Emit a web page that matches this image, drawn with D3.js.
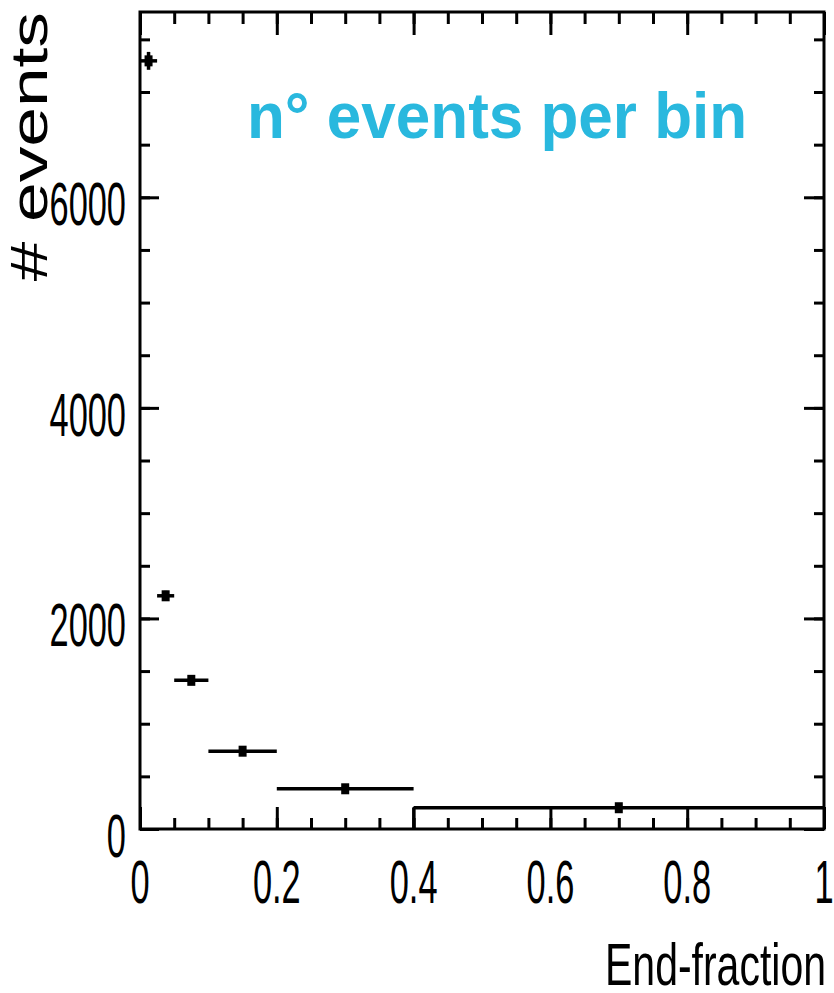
<!DOCTYPE html>
<html>
<head>
<meta charset="utf-8">
<script src="https://cdn.jsdelivr.net/npm/d3@7/dist/d3.min.js"></script>
<style>
  html, body { margin: 0; padding: 0; background: #ffffff; }
  svg { display: block; }
</style>
</head>
<body>
<svg id="chart" width="834" height="993"></svg>
<script>
// Variable-width bins of the end-fraction histogram
const binLow  = [0, 0.025, 0.05, 0.1, 0.2, 0.4];
const binHigh = [0.025, 0.05, 0.1, 0.2, 0.4, 1.0];
const binCenter = [0.0125, 0.0375, 0.075, 0.15, 0.3, 0.7];
// Events per bin and their statistical errors
const counts = [7296, 2215, 1412, 739, 382, 202];
const errors = [85, 47, 38, 27, 20, 14];
// Axis ticks
const xMajorTicks = [0, 0.2, 0.4, 0.6, 0.8, 1];
const xTickLabels = ["0", "0.2", "0.4", "0.6", "0.8", "1"];
const yMajorTicks = [0, 2000, 4000, 6000];
const yTickLabels = ["0", "2000", "4000", "6000"];
const xMinorStep = 0.05;
const yMinorStep = 500;
const yMax = 7760;

const svg = d3.select("#chart");
const frame = { left: 140, right: 824, top: 12, bottom: 829 };

const x = d3.scaleLinear().domain([0, 1]).range([frame.left, frame.right]);
const y = d3.scaleLinear().domain([0, yMax]).range([frame.bottom, frame.top]);

const xMinor = d3.range(0, 1 + 1e-9, xMinorStep).map(v => +v.toFixed(3));
const yMinor = d3.range(0, yMax, yMinorStep);

const FONT = "'Liberation Sans', Arial, Helvetica, sans-serif";
const SX = 0.86, SY = 1.52;   // condensed, tall lettering of the axis text

function styleAxis(g) {
  g.select(".domain").remove();
  g.selectAll(".tick line").attr("stroke", "#000").attr("stroke-width", 3);
  g.selectAll(".tick text").remove();
}

// Ticks on all four sides, pointing inwards
svg.append("g").attr("transform", `translate(0,${frame.bottom})`)
  .call(d3.axisBottom(x).tickValues(xMinor).tickSize(-11)).call(styleAxis);
svg.append("g").attr("transform", `translate(0,${frame.bottom})`)
  .call(d3.axisBottom(x).tickValues(xMajorTicks).tickSize(-22)).call(styleAxis);
svg.append("g").attr("transform", `translate(0,${frame.top})`)
  .call(d3.axisTop(x).tickValues(xMinor).tickSize(-12)).call(styleAxis);
svg.append("g").attr("transform", `translate(0,${frame.top})`)
  .call(d3.axisTop(x).tickValues(xMajorTicks).tickSize(-23)).call(styleAxis);
svg.append("g").attr("transform", `translate(${frame.left},0)`)
  .call(d3.axisLeft(y).tickValues(yMinor).tickSize(-10)).call(styleAxis);
svg.append("g").attr("transform", `translate(${frame.left},0)`)
  .call(d3.axisLeft(y).tickValues(yMajorTicks).tickSize(-19)).call(styleAxis);
svg.append("g").attr("transform", `translate(${frame.right},0)`)
  .call(d3.axisRight(y).tickValues(yMinor).tickSize(-10)).call(styleAxis);
svg.append("g").attr("transform", `translate(${frame.right},0)`)
  .call(d3.axisRight(y).tickValues(yMajorTicks).tickSize(-20)).call(styleAxis);

// Frame
svg.append("rect")
  .attr("x", frame.left).attr("y", frame.top)
  .attr("width", frame.right - frame.left).attr("height", frame.bottom - frame.top)
  .attr("fill", "none").attr("stroke", "#000").attr("stroke-width", 3);

// Stretched text helper
function label(str, px, py, size, anchor, sx, sy, rot, weight, fill) {
  svg.append("text")
    .attr("transform", `translate(${px},${py}) scale(${sx},${sy})` + (rot ? ` rotate(${rot})` : ""))
    .attr("text-anchor", anchor)
    .attr("font-family", FONT)
    .attr("font-size", size)
    .attr("font-weight", weight || "normal")
    .attr("fill", fill || "#000")
    .text(str);
}

// Tick labels
yMajorTicks.forEach((v, i) => label(yTickLabels[i], 126, y(v) + 28, 40, "end", SX, SY));
xMajorTicks.forEach((v, i) => label(xTickLabels[i], x(v), 903, 40, "middle", SX, SY));

// Axis titles
label("End-fraction", 826, 985, 41, "end", 1, 1.45);
label("# events", 47, 12, 52, "end", 1, 1.37, -90);

// Outline of the widest bin
const last = counts.length - 1;
svg.append("line")
  .attr("x1", x(binLow[last])).attr("x2", x(binLow[last]))
  .attr("y1", y(0)).attr("y2", y(counts[last]))
  .attr("stroke", "#000").attr("stroke-width", 3);

// Data points with bin-width and statistical error bars
const pts = svg.append("g");
counts.forEach((c, i) => {
  pts.append("line")
    .attr("x1", x(binLow[i])).attr("x2", x(binHigh[i]))
    .attr("y1", y(c)).attr("y2", y(c))
    .attr("stroke", "#000").attr("stroke-width", 3.5);
  pts.append("line")
    .attr("x1", x(binCenter[i])).attr("x2", x(binCenter[i]))
    .attr("y1", y(c - errors[i])).attr("y2", y(c + errors[i]))
    .attr("stroke", "#000").attr("stroke-width", 3.5);
  pts.append("rect")
    .attr("x", x(binCenter[i]) - 4).attr("y", y(c) - 5.5)
    .attr("width", 8).attr("height", 11)
    .attr("fill", "#000");
});

// Annotation
svg.append("text")
  .attr("transform", "translate(247,138) scale(1,1.05)")
  .attr("font-family", FONT)
  .attr("font-size", 62)
  .attr("font-weight", "bold")
  .attr("fill", "#29b8de")
  .text("n° events per bin");
</script>
</body>
</html>
